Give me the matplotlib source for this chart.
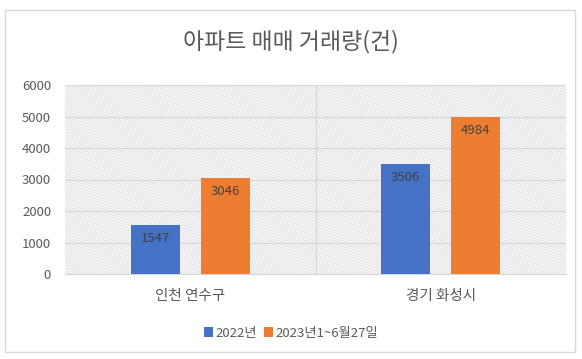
import numpy as np
import matplotlib.pyplot as plt
from matplotlib.patches import Rectangle

plt.rcParams['font.family'] = ['Noto Sans CJK KR', 'DejaVu Sans']
plt.rcParams['hatch.color'] = '#d9d9d9'
plt.rcParams['hatch.linewidth'] = 0.6

# data
categories = ['인천 연수구', '경기 화성시']
series_names = ['2022년', '2023년1~6월27일']
values_2022 = [1547, 3506]
values_2023 = [3046, 4984]
colors = ['#4472c4', '#ed7d31']

fig = plt.figure(figsize=(5.82, 3.59), dpi=100)

# outer chart border
fig.patches.append(Rectangle((5 / 582, 1 - 352 / 359), 570 / 582, 342 / 359,
                             transform=fig.transFigure, fill=False,
                             edgecolor='#d9d9d9', linewidth=1))

ax = fig.add_axes([65 / 582, 1 - 274 / 359, 501 / 582, 189 / 359])

# hatched plot area
ax.add_patch(Rectangle((0, 0), 1, 1, transform=ax.transAxes, facecolor='white',
                       hatch='\\' * 12, edgecolor='#d9d9d9', linewidth=0, zorder=0))

x = np.arange(len(categories))
w = 0.196
off = 0.14
b1 = ax.bar(x - off, values_2022, w, color=colors[0], label=series_names[0], zorder=3)
b2 = ax.bar(x + off, values_2023, w, color=colors[1], label=series_names[1], zorder=3)

for bars in (b1, b2):
    for rect in bars:
        h = rect.get_height()
        ax.annotate(f'{int(h)}', (rect.get_x() + rect.get_width() / 2, h),
                    xytext=(0, -5), textcoords='offset points', ha='center', va='top',
                    fontsize=9.5, color='#404040', zorder=4)

ax.set_xlim(-0.5, 1.5)
ax.set_ylim(0, 6000)
ax.set_yticks(range(0, 6001, 1000))
ax.set_xticks(x)
ax.set_xticklabels(categories, fontsize=10.5, color='#595959')
ax.tick_params(axis='y', labelsize=9.5, colors='#595959', length=0, pad=10)
ax.tick_params(axis='x', length=0, pad=11)

ax.grid(axis='y', color='#d9d9d9', linewidth=1, zorder=1)
ax.axvline(0.5, color='#d9d9d9', linewidth=1, zorder=1)
for s in ['top', 'right', 'left']:
    ax.spines[s].set_visible(False)
ax.spines['bottom'].set_color('#d9d9d9')
ax.set_axisbelow(True)

fig.suptitle('아파트 매매 거래량(건)', y=1 - 42 / 359, va='center', fontsize=16.5,
             color='#595959', fontweight='medium')

fig.legend(loc='center', bbox_to_anchor=(0.5, 1 - 333 / 359), ncol=2, frameon=False,
           fontsize=9.5, handlelength=0.7, handleheight=0.7, handletextpad=0.2,
           columnspacing=0.5, labelcolor='#595959')

fig.savefig('out.png', dpi=100)
